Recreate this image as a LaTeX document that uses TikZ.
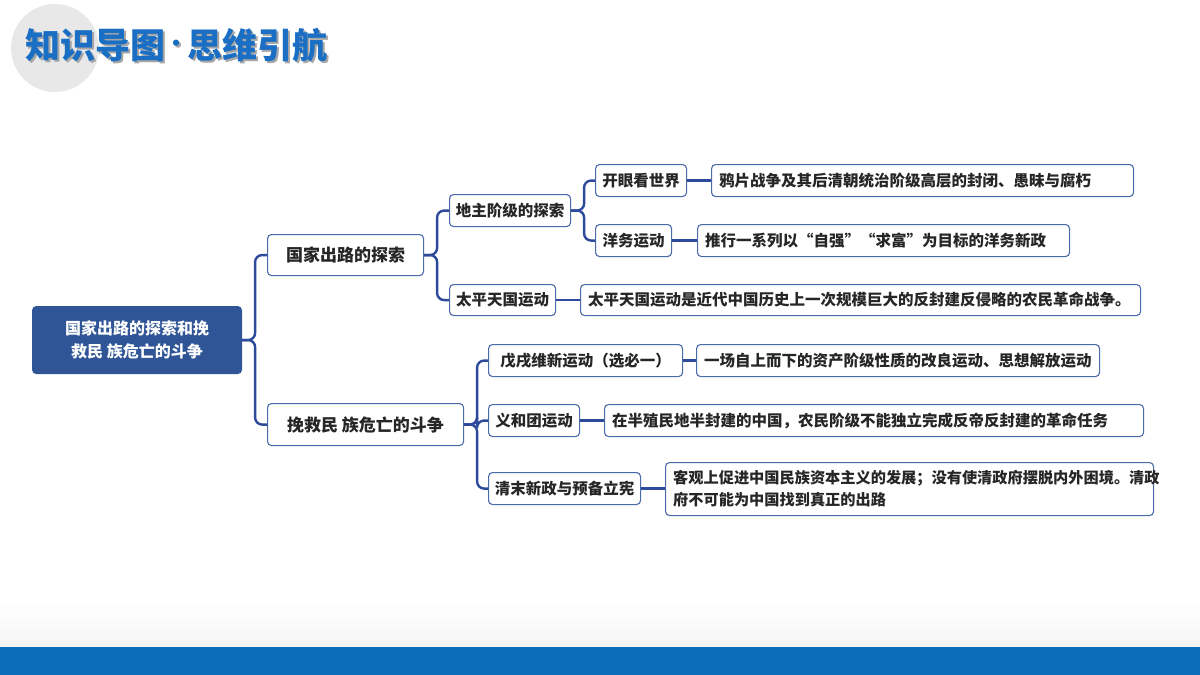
\documentclass[tikz,border=0pt]{standalone}
\usepackage{fontspec}
\setmainfont{Noto Sans CJK SC}
\begin{document}
\begin{tikzpicture}[x=1pt,y=-1pt,
  box/.style={draw=bx,line width=1.1pt,rounded corners=4pt,fill=white,inner sep=0pt,anchor=north west,align=center,font=\fontsize{15.5}{19}\selectfont\bfseries,text=black!85},
  leaf/.style={box,text depth=0pt},
  lt/.style={anchor=west,inner sep=0pt,font=\fontsize{15.5}{19}\selectfont\bfseries,text=black!85},
  conn/.style={draw=cn,line width=2.4pt,rounded corners=7pt}]
\definecolor{bx}{HTML}{4A6AA8}\definecolor{cn}{HTML}{2E4A9A}
\definecolor{rootc}{HTML}{2F5597}\definecolor{bar}{HTML}{0A6EBD}\definecolor{ttl}{HTML}{1A6FC4}
\useasboundingbox (0,0) rectangle (1200,675);
\fill[white] (0,0) rectangle (1200,675);
\shade[top color=white,bottom color=black!4] (0,600) rectangle (1200,647);
\fill[bar] (0,647) rectangle (1200,675);
\fill[black!9] (55,48) circle (44);
\node[font=\fontsize{35}{40}\selectfont\bfseries,text=black!35,anchor=west] at (24,47) {知识导图\raisebox{7pt}{\fontsize{22}{22}\selectfont·}思维引航};
\node[font=\fontsize{35}{40}\selectfont\bfseries,text=ttl,anchor=west] (title) at (22,45) {知识导图\raisebox{7pt}{\fontsize{22}{22}\selectfont·}思维引航};
% nodes
\node[box,fill=rootc,draw=rootc,text=white,minimum width=209pt,minimum height=67pt,font=\fontsize{16}{23}\selectfont\bfseries] (r) at (32,306) {国家出路的探索和挽\\救民 族危亡的斗争};
\node[box,minimum width=156pt,minimum height=41pt,font=\fontsize{17}{20}\selectfont\bfseries] (a) at (267,234) {国家出路的探索};
\node[box,minimum width=196pt,minimum height=42pt,font=\fontsize{17}{20}\selectfont\bfseries] (b) at (267,403) {挽救民 族危亡的斗争};
\node[box,minimum width=121pt,minimum height=32pt] (a1) at (449,194) {地主阶级的探索};
\node[box,minimum width=106pt,minimum height=31pt] (a2) at (449,284) {太平天国运动};
\node[box,minimum width=91pt,minimum height=32pt] (a11) at (595,164) {开眼看世界};
\node[leaf,minimum width=422pt,minimum height=32pt] (l11) at (711,164) {};
\node[lt] at ([xshift=8pt]l11.west) {鸦片战争及其后清朝统治阶级高层的封闭、愚昧与腐朽};
\node[box,minimum width=76pt,minimum height=32pt] (a12) at (595,224) {洋务运动};
\node[leaf,minimum width=372pt,minimum height=32pt] (l12) at (697,224) {};
\node[lt] at ([xshift=8pt]l12.west) {推行一系列以“自强”“求富”为目标的洋务新政};
\node[leaf,minimum width=560pt,minimum height=31pt] (l2) at (580,284) {};
\node[lt] at ([xshift=8pt]l2.west) {太平天国运动是近代中国历史上一次规模巨大的反封建反侵略的农民革命战争。};
\node[box,minimum width=194pt,minimum height=32pt] (b1) at (488,344) {戊戌维新运动（选必一）};
\node[leaf,minimum width=403pt,minimum height=32pt] (lb1) at (696,344) {};
\node[lt] at ([xshift=8pt]lb1.west) {一场自上而下的资产阶级性质的改良运动、思想解放运动};
\node[box,minimum width=91pt,minimum height=32pt] (b2) at (488,404) {义和团运动};
\node[leaf,minimum width=539pt,minimum height=32pt] (lb2) at (604,404) {};
\node[lt] at ([xshift=8pt]lb2.west) {在半殖民地半封建的中国，农民阶级不能独立完成反帝反封建的革命任务};
\node[box,minimum width=152pt,minimum height=32pt] (b3) at (488,472) {清末新政与预备立宪};
\node[leaf,minimum width=488pt,minimum height=53pt] (lb3) at (665,462) {};
\node[lt,align=left,font=\fontsize{15.2}{22}\selectfont\bfseries] at ([xshift=8pt]lb3.west) {客观上促进中国民族资本主义的发展；没有使清政府摆脱内外困境。清政\\府不可能为中国找到真正的出路};
% connectors
\draw[conn] (r.east) -- ++(13,0) |- (a.west);
\draw[conn] (r.east) -- ++(13,0) |- (b.west);
\draw[conn] (a.east) -- ++(13,0) |- (a1.west);
\draw[conn] (a.east) -- ++(13,0) |- (a2.west);
\draw[conn] (a1.east) -- ++(13,0) |- (a11.west);
\draw[conn] (a1.east) -- ++(13,0) |- (a12.west);
\draw[conn] (b.east) -- ++(13,0) |- (b1.west);
\draw[conn] (b.east) -- ++(13,0) |- (b2.west);
\draw[conn] (b.east) -- ++(13,0) |- (b3.west);
\draw[conn] (a11.east) -- (l11.west);
\draw[conn] (a12.east) -- (l12.west);
\draw[conn] (a2.east) -- (l2.west);
\draw[conn] (b1.east) -- (lb1.west);
\draw[conn] (b2.east) -- (lb2.west);
\draw[conn] (b3.east) -- (b3.east -| lb3.west);
\end{tikzpicture}
\end{document}
